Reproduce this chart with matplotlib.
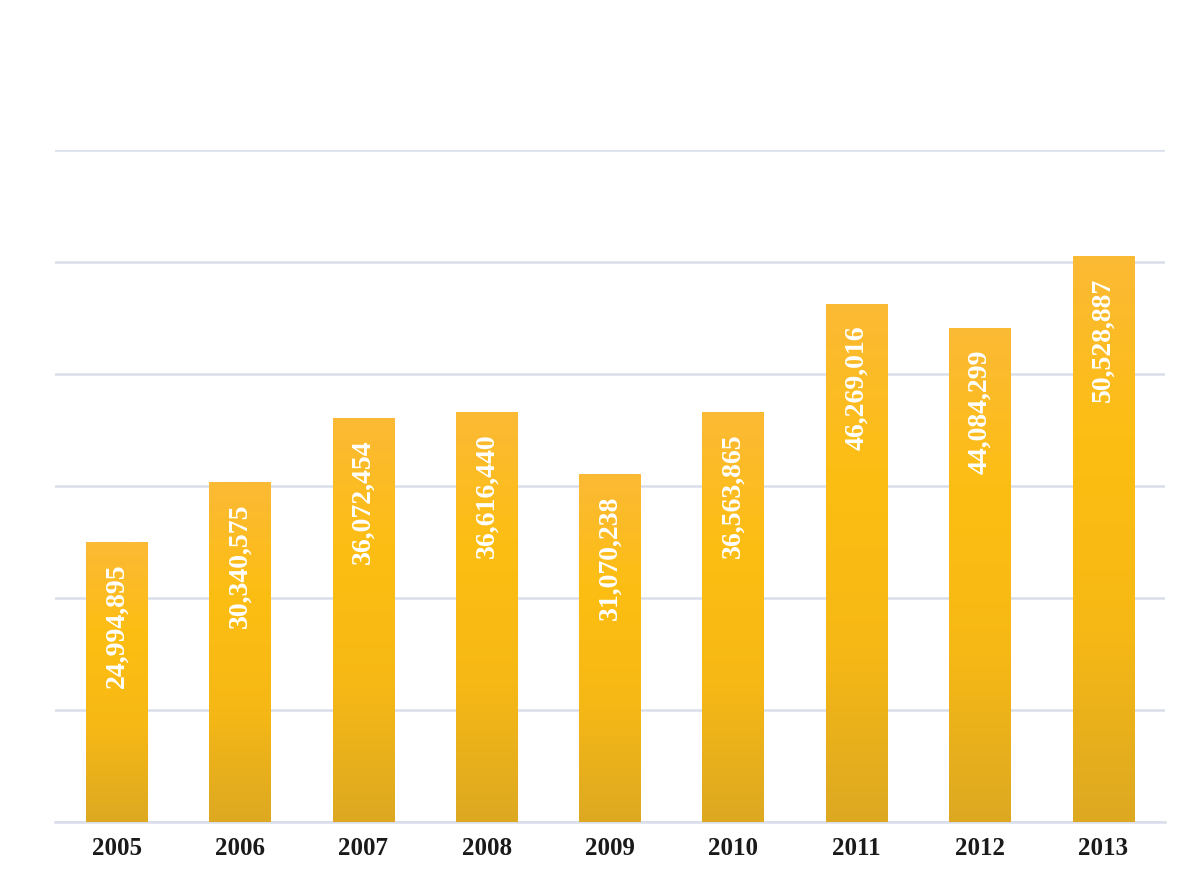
import numpy as np
import matplotlib as mpl
mpl.use('Agg')
import matplotlib.pyplot as plt
from matplotlib.colors import LinearSegmentedColormap

years = ['2005', '2006', '2007', '2008', '2009', '2010', '2011', '2012', '2013']
values = [24994895, 30340575, 36072454, 36616440, 31070238, 36563865, 46269016, 44084299, 50528887]

# bottom -> top colour of each bar
grad = LinearSegmentedColormap.from_list('bar', ['#DDA922', '#F6B815', '#FDBE12', '#FBBA35'])

fig = plt.figure(figsize=(12, 8.93), dpi=100, facecolor='white')
ax = fig.add_axes([55/1200, 1 - 822/893, 1110/1200, 672/893])

x = np.arange(len(years))
bars = ax.bar(x, values, width=0.5, color='none', zorder=3)

g = np.linspace(0, 1, 256).reshape(-1, 1)
for b, v in zip(bars, values):
    x0 = b.get_x()
    im = ax.imshow(g, cmap=grad, aspect='auto', origin='lower',
                   extent=[x0, x0 + b.get_width(), 0, v], zorder=3)
    im.set_clip_path(b)
    ax.text(b.get_x() + b.get_width() / 2, v - 1.9e6, f'{v:,}',
            rotation=90, ha='center', va='top', color='white',
            fontsize=20, fontweight='bold', family='Liberation Serif', zorder=4)

ax.set_xlim(-0.5, len(years) - 0.5)
ax.set_ylim(0, 60e6)
ax.set_yticks(np.arange(0, 60e6 + 1, 10e6))
ax.yaxis.grid(True, color='#D9DEEA', linewidth=1.8)
ax.set_axisbelow(True)
ax.tick_params(axis='y', left=False, labelleft=False)
ax.tick_params(axis='x', length=0, pad=11)
ax.set_xticks(x)
ax.set_xticklabels(years, fontsize=18, fontweight='bold', family='Liberation Serif', color='#1a1a1a')
for s in ['top', 'right', 'left']:
    ax.spines[s].set_visible(False)
ax.spines['bottom'].set_color('#D9DEEA')
ax.spines['bottom'].set_linewidth(1.8)

plt.savefig('out.png', dpi=100, facecolor='white')
